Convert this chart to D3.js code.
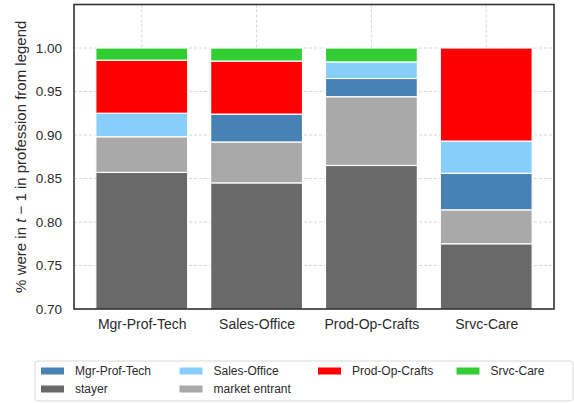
<!DOCTYPE html>
<html>
<head>
<meta charset="utf-8">
<script src="https://cdn.jsdelivr.net/npm/d3@7"></script>
<style>
  body { margin: 0; background: #fff; }
  svg { font-family: "Liberation Sans", Arial, sans-serif; }
</style>
</head>
<body>
<div id="chart"></div>
<script>
// DATA
const categories = ["Mgr-Prof-Tech", "Sales-Office", "Prod-Op-Crafts", "Srvc-Care"];
const stayer = [0.857, 0.845, 0.865, 0.775];
const marketEntrant = [0.041, 0.047, 0.079, 0.039];
const mgrProfTech = [0.0, 0.032, 0.021, 0.042];
const salesOffice = [0.027, 0.0, 0.019, 0.037];
const prodOpCrafts = [0.061, 0.061, 0.0, 0.107];
const srvcCare = [0.014, 0.015, 0.016, 0.0];
const yTicks = [0.70, 0.75, 0.80, 0.85, 0.90, 0.95, 1.00];

const series = [
  { name: "stayer", color: "#696969", vals: stayer },
  { name: "market entrant", color: "#a9a9a9", vals: marketEntrant },
  { name: "Mgr-Prof-Tech", color: "#4682b4", vals: mgrProfTech },
  { name: "Sales-Office", color: "#87cefa", vals: salesOffice },
  { name: "Prod-Op-Crafts", color: "#ff0000", vals: prodOpCrafts },
  { name: "Srvc-Care", color: "#32cd32", vals: srvcCare }
];
const legendOrder = ["Mgr-Prof-Tech", "Sales-Office", "Prod-Op-Crafts", "Srvc-Care", "stayer", "market entrant"];

const W = 574, H = 403;
const pLeft = 74, pRight = 554, pTop = 4.5, pBottom = 309;

const svg = d3.select("#chart").append("svg")
  .attr("width", W).attr("height", H);

const x = d3.scaleLinear().domain([-0.59, 3.59]).range([pLeft, pRight]);
const y = d3.scaleLinear().domain([0.70, 1.05]).range([pBottom, pTop]);
const barW = x(0.8) - x(0);

// grid
const grid = svg.append("g");
grid.selectAll(".gy").data(yTicks).enter().append("line")
  .attr("x1", pLeft).attr("x2", pRight)
  .attr("y1", d => y(d)).attr("y2", d => y(d))
  .attr("stroke", "#cccccc").attr("stroke-width", 0.8)
  .attr("stroke-dasharray", "3,2");
grid.selectAll(".gx").data(categories).enter().append("line")
  .attr("x1", (d, i) => x(i)).attr("x2", (d, i) => x(i))
  .attr("y1", pTop).attr("y2", pBottom)
  .attr("stroke", "#cccccc").attr("stroke-width", 0.8)
  .attr("stroke-dasharray", "3,2");

// stacked bars
const stacked = categories.map((c, i) => {
  let base = 0;
  return series.map(s => {
    const seg = { cat: i, y0: base, y1: base + s.vals[i], color: s.color };
    base += s.vals[i];
    return seg;
  });
});

svg.append("clipPath").attr("id", "clip")
  .append("rect").attr("x", pLeft).attr("y", pTop)
  .attr("width", pRight - pLeft).attr("height", pBottom - pTop);

const bars = svg.append("g").attr("clip-path", "url(#clip)");
stacked.forEach(segs => {
  bars.selectAll(null).data(segs.filter(s => s.y1 > s.y0)).enter().append("rect")
    .attr("x", d => x(d.cat) - barW / 2)
    .attr("width", barW)
    .attr("y", d => y(d.y1))
    .attr("height", d => y(d.y0) - y(d.y1))
    .attr("fill", d => d.color)
    .attr("stroke", "#ffffff")
    .attr("stroke-width", 1.2);
});

// frame
svg.append("rect")
  .attr("x", pLeft).attr("y", pTop)
  .attr("width", pRight - pLeft).attr("height", pBottom - pTop)
  .attr("fill", "none").attr("stroke", "#333333").attr("stroke-width", 1.6);

// axes
const yAxis = svg.append("g")
  .attr("transform", "translate(" + pLeft + ",0)")
  .call(d3.axisLeft(y).tickValues(yTicks).tickFormat(d3.format(".2f")).tickSize(0).tickPadding(12));
yAxis.select(".domain").remove();
yAxis.selectAll("text").attr("font-size", 13.5).attr("fill", "#2b2b2b");

const xAxis = svg.append("g")
  .attr("transform", "translate(0," + pBottom + ")")
  .call(d3.axisBottom(x).tickValues([0, 1, 2, 3]).tickFormat(i => categories[i]).tickSize(0).tickPadding(10));
xAxis.select(".domain").remove();
xAxis.selectAll("text").attr("font-size", 14).attr("fill", "#2b2b2b");

// y label
const yl = svg.append("text")
  .attr("transform", "translate(26," + ((pTop + pBottom) / 2) + ") rotate(-90)")
  .attr("text-anchor", "middle")
  .attr("font-size", 15).attr("fill", "#2b2b2b");
yl.append("tspan").text("% were in ");
yl.append("tspan").attr("font-style", "italic").text("t");
yl.append("tspan").text(" \u2212 1 in profession from legend");

// legend
const leg = svg.append("g");
leg.append("rect")
  .attr("x", 35).attr("y", 361).attr("width", 538).attr("height", 40)
  .attr("rx", 3).attr("fill", "#fff")
  .attr("stroke", "#d9d9d9").attr("stroke-width", 1);
legendOrder.forEach((name, k) => {
  const s = series.find(d => d.name === name);
  const col = k % 4, row = Math.floor(k / 4);
  const lx = 41 + col * 138.5, ly = 371 + row * 18;
  leg.append("rect")
    .attr("x", lx).attr("y", ly - 3.5).attr("width", 23).attr("height", 7)
    .attr("fill", s.color);
  leg.append("text")
    .attr("x", lx + 34).attr("y", ly + 4)
    .attr("font-size", 12).attr("fill", "#2b2b2b")
    .text(name);
});
</script>
</body>
</html>
